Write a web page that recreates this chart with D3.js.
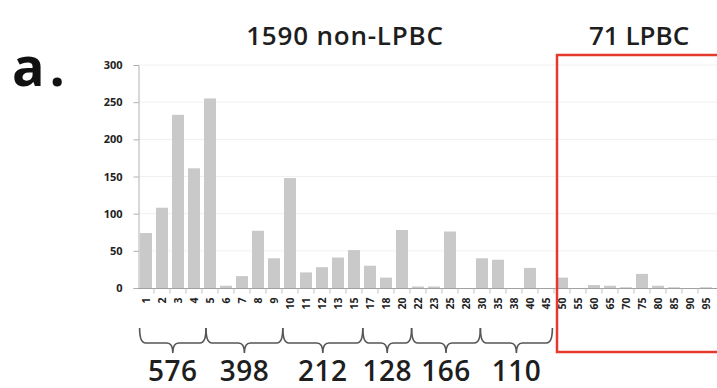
<!DOCTYPE html>
<html>
<head>
<meta charset="utf-8">
<script src="https://cdn.jsdelivr.net/npm/d3@7"></script>
<style>
  html, body { margin: 0; padding: 0; background: #fff; }
  svg { display: block; }
  text { font-family: "Open Sans", "DejaVu Sans", sans-serif; }
</style>
</head>
<body>
<script>
// Number of sites per patient, grouped by count category
const categories = ["1","2","3","4","5","6","7","8","9","10","11","12","13","15","17","18","20",
  "22","23","25","28","30","35","38","40","45","50","55","60","65","70","75","80","85","90","95"];
const counts = [74,108,233,161,255,3,16,77,40,148,21,28,41,51,30,14,78,
  2,2,76,0,40,38,0,27,0,14,0,4,3,1,19,3,1,0,1];
const yTicks = [0,50,100,150,200,250,300];

// Group braces under the axis: edges in category units, and their totals
const braceEdges = [-0.4, 3.75, 8.55, 13.55, 16.6, 20.9, 25.4];
const braceTotals = ["576","398","212","128","166","110"];

// Headline labels
const groupTitles = ["1590 non-LPBC", "71 LPBC"];
const lpbcStart = "50";
const panelLabel = "a.";

const W = 717, H = 388;
const svg = d3.select("body").append("svg").attr("width", W).attr("height", H);

const x = d3.scaleBand().domain(categories).range([138, 714])
  .paddingInner(0.25).paddingOuter(0.125);
const y = d3.scaleLinear().domain([0, 300]).range([288, 65]);
// category-unit position -> pixel (unit 0 = centre of first band)
const xu = d3.scaleLinear().domain([0, 1])
  .range([x(categories[0]) + x.bandwidth() / 2, x(categories[0]) + x.bandwidth() / 2 + x.step()]);

// faint gridlines
svg.append("g").selectAll("line").data(yTicks.slice(1)).join("line")
  .attr("x1", 138).attr("x2", W).attr("y1", d => y(d)).attr("y2", d => y(d))
  .attr("stroke", "#f0f0f0").attr("stroke-width", 1);

// bars
svg.append("g").selectAll("rect").data(counts).join("rect")
  .attr("x", (d, i) => x(categories[i]))
  .attr("width", x.bandwidth())
  .attr("y", d => y(d))
  .attr("height", d => y(0) - y(d))
  .attr("fill", "#c9c9c9");

// y axis
const yAxis = svg.append("g").attr("transform", "translate(138.5,0)")
  .call(d3.axisLeft(y).tickValues(yTicks).tickSize(5).tickPadding(11));
yAxis.select(".domain").attr("stroke", "#b0b0b0");
yAxis.selectAll(".tick line").attr("stroke", "#b0b0b0");
yAxis.selectAll("text").attr("font-size", 11).attr("font-weight", 700).attr("fill", "#222");

// x axis with rotated category labels
const xAxis = svg.append("g").attr("transform", "translate(0,288.5)")
  .call(d3.axisBottom(x).tickSize(0).tickPadding(0));
xAxis.select(".domain").attr("stroke", "#a0a0a0").attr("d", "M138,0H717");
xAxis.selectAll(".tick text")
  .attr("font-size", 10.5).attr("font-weight", 700).attr("fill", "#222")
  .attr("text-anchor", "end").attr("dy", "0.35em")
  .attr("transform", "translate(0,9) rotate(-90)")
  .attr("x", 0).attr("y", 0);
// small separators between bands
svg.append("g").selectAll("line").data(categories.slice(1)).join("line")
  .attr("x1", d => x(d) - x.step() * x.paddingInner() / 2)
  .attr("x2", d => x(d) - x.step() * x.paddingInner() / 2)
  .attr("y1", 288.5).attr("y2", 293.5)
  .attr("stroke", "#c0c0c0");

// braces
function bracePath(x0, x1, yTop, yMid, yTip) {
  const xm = (x0 + x1) / 2, r = 6;
  return `M${x0},${yTop} Q${x0},${yMid} ${x0 + r},${yMid} L${xm - r},${yMid} ` +
    `Q${xm},${yMid} ${xm},${yTip} Q${xm},${yMid} ${xm + r},${yMid} ` +
    `L${x1 - r},${yMid} Q${x1},${yMid} ${x1},${yTop}`;
}
const braces = braceTotals.map((t, i) => ({ t, x0: xu(braceEdges[i]), x1: xu(braceEdges[i + 1]) }));
svg.append("g").selectAll("path").data(braces).join("path")
  .attr("d", d => bracePath(d.x0, d.x1, 328, 343, 353))
  .attr("fill", "none").attr("stroke", "#555").attr("stroke-width", 1.6);
svg.append("g").selectAll("text").data(braces).join("text")
  .attr("x", d => (d.x0 + d.x1) / 2).attr("y", 381)
  .attr("text-anchor", "middle")
  .attr("font-size", 28).attr("font-weight", 600).attr("letter-spacing", 0.5).attr("fill", "#1e1e1e")
  .text(d => d.t);

// LPBC box
const boxX = x(lpbcStart) - x.step() * x.paddingInner() / 2 + 3;
svg.append("rect")
  .attr("x", boxX).attr("y", 55).attr("width", W + 10 - boxX).attr("height", 297)
  .attr("fill", "none").attr("stroke", "#e5392c").attr("stroke-width", 2.5);

// titles
svg.append("text").attr("x", 345).attr("y", 45).attr("text-anchor", "middle")
  .attr("font-size", 26).attr("font-weight", 600).attr("letter-spacing", 0.8)
  .attr("fill", "#1e1e1e").text(groupTitles[0]);
svg.append("text").attr("x", 639).attr("y", 45).attr("text-anchor", "middle")
  .attr("font-size", 26).attr("font-weight", 600)
  .attr("fill", "#1e1e1e").text(groupTitles[1]);
svg.append("text").attr("x", 12).attr("y", 86)
  .attr("font-size", 54).attr("font-weight", 700).attr("letter-spacing", 5)
  .attr("fill", "#111").text(panelLabel);
</script>
</body>
</html>
